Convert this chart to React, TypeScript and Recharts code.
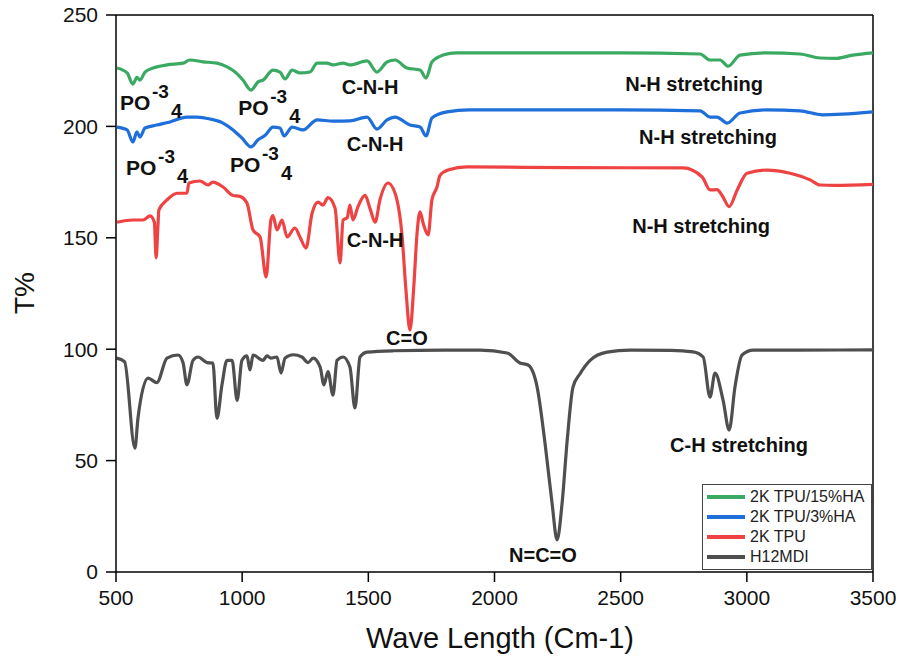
import React from "react";
import {
  LineChart,
  Line,
  XAxis,
  YAxis,
  ReferenceLine,
  ReferenceDot,
  Legend,
} from "recharts";

const xTicks = [500, 1000, 1500, 2000, 2500, 3000, 3500];
const yTicks = [0, 50, 100, 150, 200, 250];

// [wavenumber, T%]
const tpu15 = [
  [504, 226.2], [544, 224], [567, 219], [583, 222], [595, 220.8], [615, 224.4],
  [647, 226.2], [702, 227.6], [766, 228.4], [793, 229.8], [845, 229], [900, 228.4],
  [940, 226.7], [972, 224.4], [1003, 220.8], [1035, 216.3], [1063, 220], [1083, 220.8],
  [1122, 225.3], [1150, 224.4], [1170, 221.3], [1198, 225.3], [1229, 224], [1269, 224.4],
  [1297, 228.4], [1336, 228.4], [1360, 227.6], [1400, 228.4], [1427, 227.6], [1495, 229.4],
  [1534, 224.4], [1574, 228.9], [1606, 229.8], [1653, 226.2], [1705, 225.3], [1729, 221.7],
  [1752, 228.9], [1796, 232], [1850, 233], [2500, 233], [2815, 232.5], [2854, 229.8],
  [2894, 229.8], [2926, 227], [2973, 232], [3080, 233], [3211, 232.5], [3290, 230.7],
  [3350, 230.5], [3420, 232], [3500, 233],
];

const tpu3 = [
  [504, 199.7], [544, 198.4], [567, 193], [583, 197.5], [595, 195.2], [615, 199.3],
  [662, 200.6], [714, 202], [781, 204.2], [821, 204.2], [873, 203.3], [924, 201.5],
  [964, 198.4], [999, 194.8], [1035, 190.8], [1063, 194], [1091, 196], [1122, 199.7],
  [1150, 199.3], [1166, 195.7], [1198, 199.7], [1241, 198.4], [1297, 202.9], [1360, 202.4],
  [1427, 202.5], [1495, 204.2], [1534, 198.8], [1574, 202.9], [1606, 204.2], [1665, 200.6],
  [1705, 199.7], [1729, 195.7], [1752, 203.8], [1812, 206.5], [1900, 207.4], [2500, 207.4],
  [2815, 207], [2854, 204.2], [2882, 204.2], [2922, 201.5], [2973, 206], [3080, 207.4],
  [3211, 207], [3300, 205.2], [3380, 205.5], [3500, 206.5],
];

const tpu = [
  [504, 157], [567, 158], [607, 158], [635, 159.8], [652, 157], [659, 141], [666, 155],
  [670, 162.5], [702, 167], [742, 170], [781, 170], [789, 174.6], [833, 175.5], [865, 173.7],
  [884, 175], [924, 172.8], [964, 169], [991, 168.6], [1019, 165.6], [1043, 153.5],
  [1071, 150.4], [1095, 132.4], [1114, 158], [1122, 160], [1138, 153.5], [1158, 158],
  [1178, 150.4], [1209, 154.4], [1229, 150.4], [1253, 145.4], [1277, 161], [1301, 166],
  [1320, 164.7], [1340, 168], [1368, 163.4], [1388, 138.7], [1400, 158], [1416, 159],
  [1427, 164.7], [1439, 158], [1459, 164], [1487, 169], [1507, 163], [1527, 157],
  [1546, 167], [1578, 174.6], [1606, 170], [1634, 150.4], [1649, 126.6], [1665, 108.6],
  [1681, 129.7], [1693, 152], [1705, 161.6], [1717, 156.6], [1737, 151.3], [1752, 167],
  [1772, 172.8], [1784, 178], [1816, 180.4], [1891, 181.8], [2300, 181.5], [2747, 181.4],
  [2823, 177.3], [2854, 171.5], [2882, 171.6], [2902, 169], [2930, 164], [2962, 171.5],
  [3001, 179], [3080, 180.4], [3171, 179], [3251, 176], [3290, 173.7], [3350, 173.5],
  [3500, 174],
];

const h12mdi = [
  [502, 96], [534, 94.4], [575, 55.6], [587, 69], [627, 87], [662, 85], [702, 96],
  [746, 97.4], [766, 93.8], [781, 84], [805, 95], [825, 96.5], [861, 94], [884, 93.8],
  [900, 69], [920, 84], [940, 95], [960, 95], [980, 77], [999, 95], [1019, 97],
  [1031, 90.7], [1043, 97.4], [1083, 95], [1098, 97], [1114, 96], [1138, 96.5],
  [1154, 89.3], [1170, 96], [1202, 97.5], [1237, 96.5], [1261, 94], [1281, 96],
  [1309, 92], [1324, 84], [1340, 90], [1360, 79.4], [1376, 95], [1400, 96.5],
  [1427, 92], [1447, 73.6], [1467, 96.5], [1495, 98.7], [1600, 99.3], [1800, 99.6],
  [1943, 99.6], [2050, 98.3], [2101, 93.8], [2133, 92.9], [2169, 83], [2200, 58],
  [2228, 31], [2248, 14.4], [2268, 31], [2288, 59], [2311, 83], [2339, 89], [2379, 95],
  [2446, 98.7], [2537, 99.6], [2700, 99.5], [2787, 98.8], [2827, 96.5], [2854, 78.5],
  [2874, 89.3], [2906, 77], [2930, 63.7], [2953, 83], [2981, 97.4], [3025, 99.6],
  [3200, 99.6], [3500, 99.7],
];

const seriesNames = ["2K TPU/15%HA", "2K TPU/3%HA", "2K TPU", "H12MDI"];
const seriesColors = ["#3aaa62", "#1e6fd9", "#ef4343", "#4f4f4f"];
const seriesPoints = [tpu15, tpu3, tpu, h12mdi];

const bandLabels = [
  { text: "C-N-H", x: 1507, y: 214.5 },
  { text: "C-N-H", x: 1527, y: 189 },
  { text: "C-N-H", x: 1527, y: 145.9 },
  { text: "C=O", x: 1653, y: 101.9 },
  { text: "N=C=O", x: 2192, y: 4.5 },
  { text: "N-H stretching", x: 2791, y: 215.9 },
  { text: "N-H stretching", x: 2846, y: 192.1 },
  { text: "N-H stretching", x: 2819, y: 152.2 },
  { text: "C-H stretching", x: 2969, y: 53.9 },
];

const phosphateLabels = [
  { x: 516, y: 207.4 },
  { x: 984, y: 205.1 },
  { x: 540, y: 178.2 },
  { x: 952, y: 179.5 },
];

const font = "'Liberation Sans', Arial, sans-serif";

const toRows = (pts: number[][]) => pts.map(([x, y]) => ({ x, y }));

function renderLegend() {
  return (
    <div
      style={{
        border: "1px solid #444",
        background: "#fff",
        padding: "2px 4px",
        fontFamily: font,
        fontSize: 16,
        color: "#222",
      }}
    >
      {seriesNames.map((name, i) => (
        <div key={name} style={{ display: "flex", alignItems: "center", height: 20 }}>
          <span
            style={{
              display: "inline-block",
              width: 38,
              height: 4,
              background: seriesColors[i],
              marginRight: 5,
            }}
          />
          {name}
        </div>
      ))}
    </div>
  );
}

export default function App() {
  return (
    <div style={{ position: "absolute", left: 0, top: 0 }}>
      <LineChart
        width={902}
        height={664}
        margin={{ top: 15, right: 29, bottom: 32, left: 56 }}
      >
        <XAxis
          dataKey="x"
          type="number"
          domain={[500, 3500]}
          ticks={xTicks}
          allowDataOverflow
          height={60}
          tickSize={10}
          tickMargin={8}
          stroke="#000"
          strokeWidth={1.5}
          tick={{ fill: "#111", fontSize: 21, fontFamily: font }}
          label={{
            value: "Wave Length (Cm-1)",
            content: () => (
              <text
                x={500}
                y={648}
                textAnchor="middle"
                fontSize={29}
                fontFamily={font}
                fill="#111"
              >
                Wave Length (Cm-1)
              </text>
            ),
          }}
        />
        <YAxis
          type="number"
          domain={[0, 250]}
          ticks={yTicks}
          allowDataOverflow
          width={60}
          tickSize={10}
          tickMargin={8}
          stroke="#000"
          strokeWidth={1.5}
          tick={{ fill: "#111", fontSize: 21, fontFamily: font }}
          label={{
            value: "T%",
            content: () => (
              <text
                x={34}
                y={293}
                transform="rotate(-90 34 293)"
                textAnchor="middle"
                fontSize={28}
                fontFamily={font}
                fill="#111"
              >
                T%
              </text>
            ),
          }}
        />
        <ReferenceLine y={250} stroke="#000" strokeWidth={1.5} />
        <ReferenceLine x={3500} stroke="#000" strokeWidth={1.5} />
        {seriesPoints.map((pts, i) => (
          <Line
            key={seriesNames[i]}
            data={toRows(pts)}
            dataKey="y"
            name={seriesNames[i]}
            type="monotone"
            stroke={seriesColors[i]}
            strokeWidth={3.2}
            dot={false}
            activeDot={false}
            isAnimationActive={false}
          />
        ))}
        {bandLabels.map((b, i) => (
          <ReferenceDot
            key={"b" + i}
            x={b.x}
            y={b.y}
            r={1}
            shape={(p: any) => (
              <text
                x={p.cx}
                y={p.cy}
                textAnchor="middle"
                fontSize={20}
                fontWeight="bold"
                fontFamily={font}
                fill="#111"
              >
                {b.text}
              </text>
            )}
          />
        ))}
        {phosphateLabels.map((b, i) => (
          <ReferenceDot
            key={"p" + i}
            x={b.x}
            y={b.y}
            r={1}
            shape={(p: any) => (
              <g fontWeight="bold" fontFamily={font} fill="#111">
                <text x={p.cx} y={p.cy} fontSize={21}>
                  PO
                </text>
                <text x={p.cx + 32} y={p.cy - 12} fontSize={19}>
                  -3
                </text>
                <text x={p.cx + 51} y={p.cy + 8} fontSize={20}>
                  4
                </text>
              </g>
            )}
          />
        ))}
        <Legend
          layout="vertical"
          align="center"
          verticalAlign="middle"
          content={renderLegend}
          wrapperStyle={{ position: "absolute", left: 702, top: 484, width: 170 }}
        />
      </LineChart>
    </div>
  );
}
